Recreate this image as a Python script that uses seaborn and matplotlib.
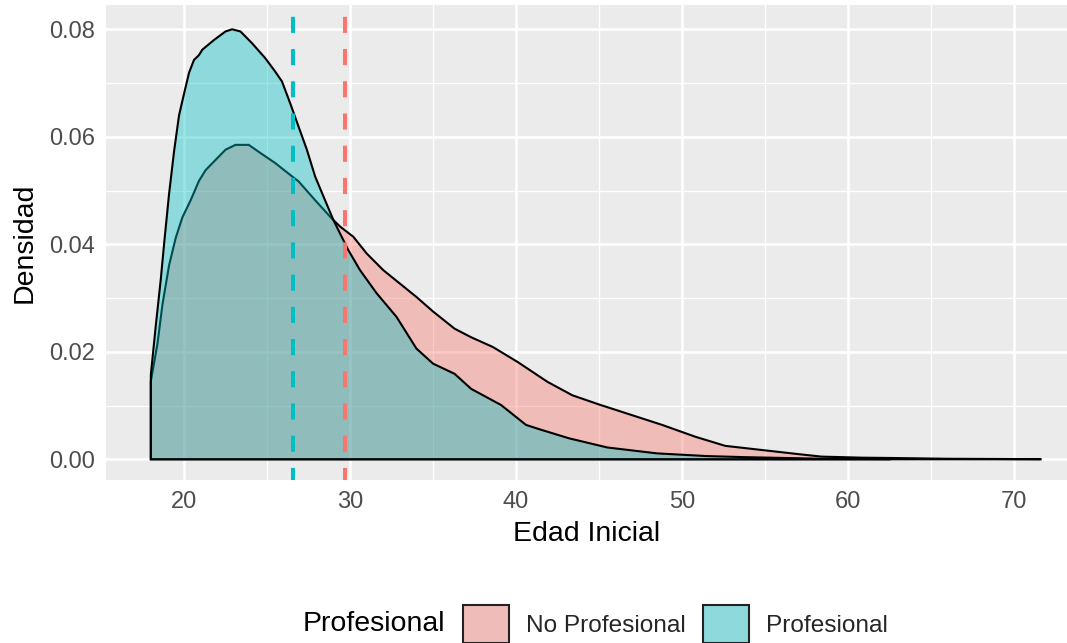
import numpy as np
import pandas as pd
import matplotlib
matplotlib.use("Agg")
import matplotlib.pyplot as plt
import seaborn as sns
from matplotlib.colors import to_rgba, to_rgb
from matplotlib.patches import Patch
from matplotlib.ticker import MultipleLocator

# ---- data ----
groups = ["No Profesional", "Profesional"]
colors = ["#F8766D", "#00BFC4"]

no_prof_x = [18.0, 18.4, 18.7, 19.1, 19.5, 19.9, 20.4, 20.9, 21.3, 21.9, 22.5, 23.1,
             23.9, 24.5, 25.5, 26.4, 26.9, 27.9, 28.9, 29.4, 30.2, 31.0, 32.0, 33.0,
             34.0, 35.0, 36.3, 37.3, 38.6, 40.1, 41.9, 43.4, 45.0, 46.7, 48.8, 50.8,
             52.6, 54.9, 56.9, 58.4, 60.9, 62.5, 66.0, 71.6]
no_prof_y = [0.0145, 0.0215, 0.0288, 0.0361, 0.0412, 0.0450, 0.0482, 0.0518, 0.0538,
             0.0557, 0.0576, 0.0585, 0.0585, 0.0572, 0.0551, 0.0529, 0.0517, 0.0482,
             0.0448, 0.0433, 0.0414, 0.0383, 0.0352, 0.0327, 0.0302, 0.0275, 0.0243,
             0.0227, 0.0209, 0.0181, 0.0144, 0.0119, 0.0102, 0.0085, 0.0064, 0.0042,
             0.0025, 0.0017, 0.0010, 0.0005, 0.0003, 0.00025, 0.0001, 0.00003]

prof_x = [18.0, 18.3, 18.6, 18.8, 19.1, 19.4, 19.7, 20.0, 20.3, 20.6, 20.9, 21.1, 21.8,
          22.5, 22.9, 23.4, 24.1, 24.9, 25.5, 25.9, 26.4, 26.9, 27.4, 27.9, 28.4,
          29.0, 29.4, 29.9, 30.6, 31.6, 32.8, 34.0, 35.0, 36.3, 37.3, 39.1, 40.6,
          41.4, 43.2, 45.5, 48.5, 51.5, 53.8, 56.9, 58.4, 62.5]
prof_y = [0.0157, 0.0249, 0.0335, 0.0401, 0.0494, 0.0573, 0.0640, 0.0680, 0.0719,
          0.0743, 0.0752, 0.0762, 0.0780, 0.0796, 0.0800, 0.0796, 0.0774, 0.0746,
          0.0721, 0.0703, 0.0662, 0.0619, 0.0576, 0.0526, 0.0489, 0.0445, 0.0420,
          0.0389, 0.0352, 0.0309, 0.0265, 0.0206, 0.0178, 0.0159, 0.0131, 0.0101,
          0.0064, 0.0056, 0.0039, 0.0022, 0.0011, 0.0006, 0.0004, 0.0002, 0.0001,
          0.00005]

means = [29.72, 26.58]

x_ticks = [20, 30, 40, 50, 60, 70]
y_ticks = [0.00, 0.02, 0.04, 0.06, 0.08]
y_tick_labels = ["0.00", "0.02", "0.04", "0.06", "0.08"]

# ---- style ----
panel_bg = "#EBEBEB"
sns.set_theme(style="darkgrid", rc={
    "axes.facecolor": panel_bg,
    "grid.color": "white",
    "figure.facecolor": "white",
})
plt.rcParams["font.family"] = ["Liberation Sans", "DejaVu Sans"]

fig = plt.figure(figsize=(10.67, 6.43), dpi=100)
ax = fig.add_axes([106 / 1067, 1 - 480 / 643, (1067 - 106) / 1067, (480 - 5) / 643])

series = [(no_prof_x, no_prof_y), (prof_x, prof_y)]
for (xs, ys), col in zip(series, colors):
    px = [xs[0]] + list(xs) + [xs[-1], xs[0]]
    py = [0.0] + list(ys) + [0.0, 0.0]
    ax.fill(px, py, facecolor=to_rgba(col, 0.4), edgecolor="black",
            linewidth=1.5, zorder=2)

for m, col in zip(means, colors):
    ax.axvline(m, color=col, linewidth=2.9, linestyle=(1.0, (4, 4)), zorder=3)

ax.set_xlim(15.30, 73.19)
ax.set_ylim(-0.00385, 0.08452)
ax.set_xticks(x_ticks)
ax.set_xticklabels([str(t) for t in x_ticks])
ax.set_yticks(y_ticks)
ax.set_yticklabels(y_tick_labels)
ax.xaxis.set_minor_locator(MultipleLocator(5))
ax.yaxis.set_minor_locator(MultipleLocator(0.01))
ax.grid(which="major", color="white", linewidth=1.9)
ax.grid(which="minor", color="white", linewidth=0.95)
ax.set_axisbelow(True)
for s in ax.spines.values():
    s.set_visible(False)

ax.tick_params(axis="both", which="major", length=5, width=1.3, color="#333333",
               labelsize=17, labelcolor="#4D4D4D", pad=3)
ax.tick_params(axis="both", which="minor", length=0)

ax.set_xlabel("Edad Inicial", fontsize=20.5, color="black", labelpad=6)
ax.set_ylabel("Densidad", fontsize=20.5, color="black", labelpad=8)

# legend at bottom
fig.text(303 / 1067, 1 - 624 / 643, "Profesional", fontsize=20.5, color="black",
         ha="left", va="center")


def blend(c, a=0.4, bg=panel_bg):
    c1, c0 = np.array(to_rgb(c)), np.array(to_rgb(bg))
    return tuple(a * c1 + (1 - a) * c0)


handles = [Patch(facecolor=blend(c), edgecolor="#222222", linewidth=1.5)
           for c in colors]
leg = fig.legend(handles, groups, loc="center left",
                 bbox_to_anchor=(463 / 1067, 1 - 624 / 643), ncol=2, frameon=False,
                 fontsize=17.6, handlelength=1.89, handleheight=2.0,
                 handletextpad=0.68, columnspacing=0.72, borderpad=0, borderaxespad=0)

fig.savefig("out.png", dpi=100)
